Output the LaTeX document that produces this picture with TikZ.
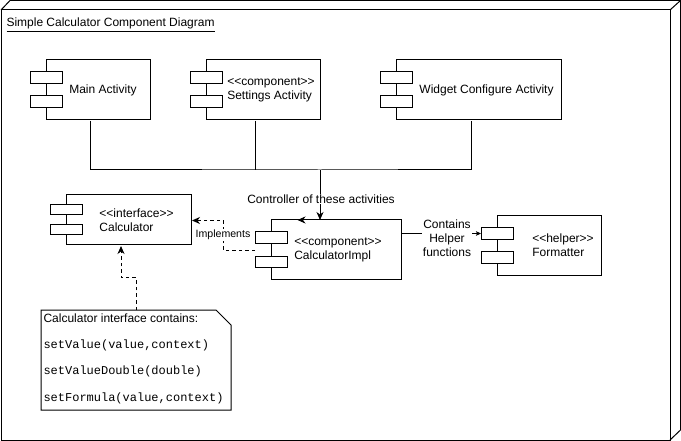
\documentclass[tikz,border=0pt]{standalone}
\usepackage{fontspec}
\newfontfamily\diasans{Liberation Sans}
\newfontfamily\diamono{Liberation Mono}
\usetikzlibrary{arrows.meta,calc}

\tikzset{
  diagram/.style={x=1pt, y=-1pt, line width=1pt,
    font=\diasans\fontsize{12}{13.8}\selectfont},
  txt/.style={inner sep=0pt, align=left},
  lbl/.style={fill=white, inner sep=1pt, align=center},
  shapebox/.style={draw, fill=white},
  tip/.style={-{Stealth[length=8pt, width=7pt, inset=2.5pt]}},
  smalltip/.style={-{Stealth[length=5pt, width=4.5pt, inset=1pt]}},
  dashlink/.style={dash pattern=on 3.5pt off 3pt},
  monotext/.style={txt, anchor=west, font=\diamono\fontsize{12}{14}\selectfont},
}

% UML component: [#1 text shift], #2 name, #3 left (port edge), #4 top,
% #5 right, #6 bottom, #7 text
\newcommand\umlcomponent[7][0]{%
  \node[inner sep=0pt, minimum width={#5-#3}, minimum height={#6-#4},
        anchor=north west] (#2) at (#3,#4) {};
  \draw[shapebox] ({#3+16},#4) rectangle (#5,#6);
  \draw[shapebox] (#3,{#4+0.2*(#6-#4)}) rectangle ({#3+32},{#4+0.4*(#6-#4)});
  \draw[shapebox] (#3,{#4+0.6*(#6-#4)}) rectangle ({#3+32},{#4+0.8*(#6-#4)});
  \coordinate (#2-p1) at (#3,{#4+0.3*(#6-#4)});
  \node[txt] (#2-text) at ({(#3+32+#5)/2+#1},{(#4+#6)/2}) {#7};
}

\begin{document}
\begin{tikzpicture}[diagram]
\useasboundingbox (0,0) rectangle (681,441);

% 3D frame of the enclosing node
\draw (1,10) rectangle (670,440);
\draw (1,10) -- (10,0.5) -- (680.5,0.5) -- (680.5,430) -- (670,440);
\draw (670,10) -- (680.5,0.5);

\node[txt, anchor=base west] (title) at (6,27)
  {\underline{Simple Calculator Component Diagram}};

% components
\umlcomponent[-3]{main}{30}{60}{150}{120}{Main Activity}
\umlcomponent{settings}{190}{60}{320}{120}{<<component>>\\Settings Activity}
\umlcomponent{widget}{380}{60}{561}{120}{Widget Configure Activity}
\umlcomponent{calc}{50}{195}{191}{245}{<<interface>>\\Calculator}
\umlcomponent[-6]{impl}{255}{220}{401}{280}{<<component>>\\CalculatorImpl}
\umlcomponent[6]{fmt}{481}{215.5}{601}{275.5}{<<helper>>\\Formatter}

% activities -> controller
\coordinate (bus) at (320,170);
\draw (main.south) |- (bus) -| (widget.south);
\draw (settings.south) -- (settings.south |- bus);
\draw[tip] (bus) -- (bus |- impl.north);
\node[lbl] (ctrl) at (321,199) {Controller of these activities};
\draw[tip] ([xshift=-22pt]impl.north) -- ([xshift=-31pt]impl.north);

% implementation of the interface
\draw[dashlink, tip] (impl.west) -- ++(-32,0) |- (calc.east);
\node[lbl, font=\diasans\fontsize{10.6}{12}\selectfont] (implements) at (223,235) {Implements};

% helper
\draw[smalltip] (impl.east |- fmt-p1) -- (fmt-p1);
\node[lbl, inner sep=0.5pt] (helper) at (447,238) {Contains\\Helper\\functions};

% note
\node[inner sep=0pt, minimum width=189, minimum height=99, anchor=north west]
  (note) at (41,310) {};
\draw[shapebox] (note.north west) -- ([xshift=-15pt]note.north east)
  -- ([yshift=-15pt]note.north east) -- (note.south east)
  -- (note.south west) -- cycle;
\node[txt, anchor=west] (note-head) at (43,318) {Calculator interface contains:};
\node[monotext] (note-l1) at (43,345) {setValue(value,context)};
\node[monotext] (note-l2) at (43,371.5) {setValueDouble(double)};
\node[monotext] (note-l3) at (43,398) {setFormula(value,context)};
\draw[dashlink, tip] (note.north) -- ++(0,-32) -| (calc.south);
\end{tikzpicture}
\end{document}
